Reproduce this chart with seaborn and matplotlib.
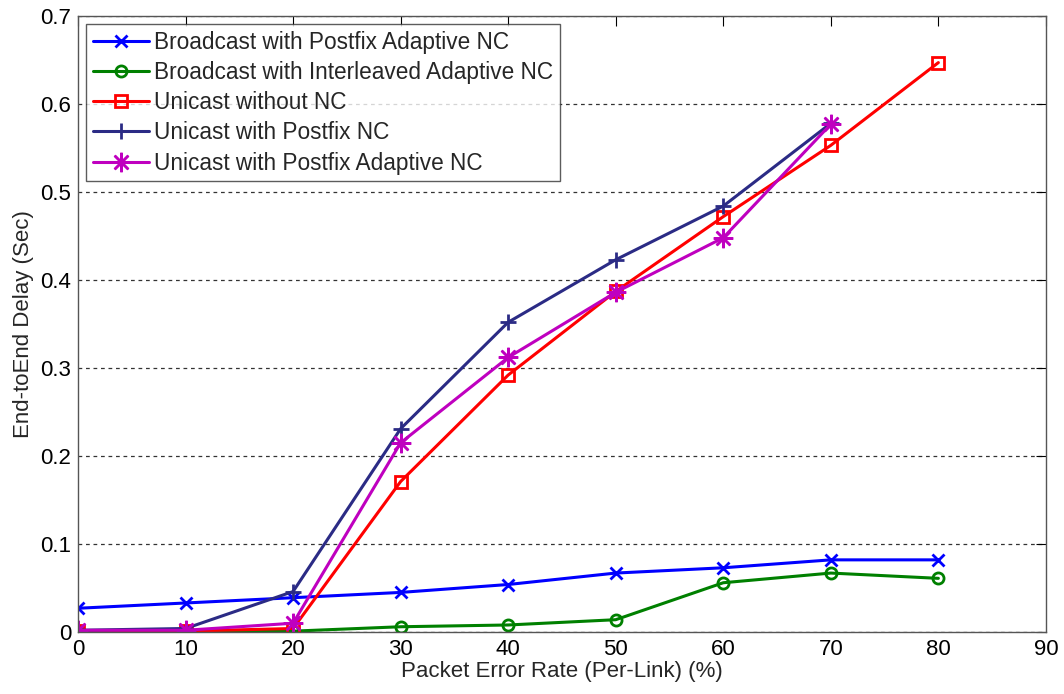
import numpy as np
import pandas as pd
import matplotlib
matplotlib.use("Agg")
import matplotlib.pyplot as plt
import seaborn as sns

# Packet error rate per link (%)
per = [0, 10, 20, 30, 40, 50, 60, 70, 80]

# End-to-end delay (s) for each scheme
bcast_postfix_adaptive = [0.027, 0.033, 0.039, 0.045, 0.054, 0.067, 0.073, 0.082, 0.082]
bcast_interleaved_adaptive = [0.001, 0.001, 0.001, 0.006, 0.008, 0.014, 0.056, 0.067, 0.061]
unicast_no_nc = [0.001, 0.001, 0.004, 0.171, 0.292, 0.387, 0.472, 0.553, 0.647]
unicast_postfix = [0.002, 0.004, 0.046, 0.231, 0.352, 0.423, 0.484, 0.578]
unicast_postfix_adaptive = [0.002, 0.002, 0.010, 0.215, 0.312, 0.386, 0.448, 0.577]

labels = [
    "Broadcast with Postfix Adaptive NC",
    "Broadcast with Interleaved Adaptive NC",
    "Unicast without NC",
    "Unicast with Postfix NC",
    "Unicast with Postfix Adaptive NC",
]
series = [bcast_postfix_adaptive, bcast_interleaved_adaptive, unicast_no_nc,
          unicast_postfix, unicast_postfix_adaptive]
colors = ["#0000ff", "#008000", "#ff0000", "#2b2b85", "#bf00bf"]
markers = ["x", "o", "s", "+", (8, 2, 0)]

sns.set_theme(style="white")
plt.rcParams["font.family"] = ["Liberation Sans", "DejaVu Sans"]
plt.rcParams["font.size"] = 16

fig = plt.figure(figsize=(10.64, 6.94), dpi=100)
ax = fig.add_axes([0.0733, 0.0893, 0.9097, 0.8877])

for lab, vals, c, m in zip(labels, series, colors, markers):
    df = pd.DataFrame({"x": per[:len(vals)], "y": vals})
    kw = dict(markersize=9, markeredgewidth=2, markeredgecolor=c)
    if m in ("o", "s"):
        kw.update(markerfacecolor="none", markersize=8)
    elif m == "+":
        kw.update(markersize=12)
    elif isinstance(m, tuple):
        kw.update(markersize=14, markeredgewidth=1.8)
    sns.lineplot(data=df, x="x", y="y", ax=ax, color=c, marker=m,
                 linewidth=2.2, label=lab, **kw)

ax.set_xlim(0, 90)
ax.set_ylim(0, 0.7)
ax.set_xticks(np.arange(0, 91, 10))
ax.set_yticks(np.arange(0, 0.71, 0.1))
ax.set_yticklabels(["0", "0.1", "0.2", "0.3", "0.4", "0.5", "0.6", "0.7"])
ax.yaxis.grid(True, linestyle=(0, (3, 3)), color="#333333", linewidth=0.9)
ax.xaxis.grid(False)
ax.tick_params(direction="in", length=7, width=0.8, top=True, right=True,
               labelsize=16, colors="#000000", pad=5)
for s in ax.spines.values():
    s.set_color("#555555")
    s.set_linewidth(1.0)

ax.set_xlabel("Packet Error Rate (Per-Link) (%)", fontsize=16, labelpad=1)
ax.set_ylabel("End-toEnd Delay (Sec)", fontsize=16, labelpad=4)

leg = ax.legend(loc="upper left", fontsize=16.3, frameon=True, fancybox=False,
                edgecolor="#333333", borderaxespad=0.35, handlelength=2.5,
                handletextpad=0.2, labelspacing=0.32, borderpad=0.3)
leg.get_frame().set_linewidth(1.0)

fig.savefig("out.png", dpi=100)
